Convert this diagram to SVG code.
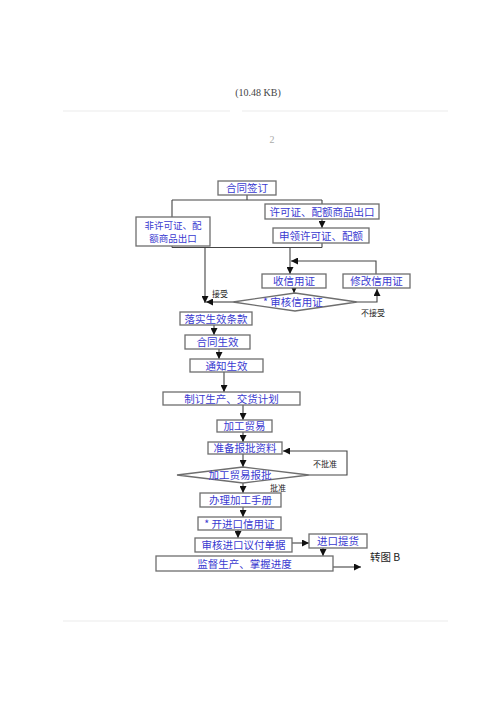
<svg xmlns="http://www.w3.org/2000/svg" width="500" height="707" viewBox="0 0 500 707">
<defs>
<marker id="ah" markerWidth="7" markerHeight="7" refX="7" refY="3.5" orient="auto" markerUnits="userSpaceOnUse">
<path d="M0,0 L7,3.5 L0,7 Z" fill="#111"/>
</marker>
<style>
.box{fill:#fff;stroke:#6e6e6e;stroke-width:1.3}
.t{font-family:"Noto Sans CJK SC","Noto Sans",sans-serif;font-size:10.5px;fill:#3a3ad0;text-anchor:middle}
.t2{font-size:9.5px}
.c{fill:none;stroke:#444;stroke-width:1.1}
.a{marker-end:url(#ah)}
.lb{font-family:"Noto Sans CJK SC",sans-serif;font-size:8px;fill:#222}
.faint{stroke:#f2f2f2;stroke-width:1.5}
</style>
</defs>
<rect width="500" height="707" fill="#fff"/>
<text x="258" y="96" font-family="'Liberation Serif',serif" font-size="10" fill="#444" text-anchor="middle">(10.48 KB)</text>
<line class="faint" x1="63" y1="111" x2="230" y2="111"/>
<line class="faint" x1="242" y1="111" x2="448" y2="111"/>
<text x="272" y="143" font-family="'Liberation Serif',serif" font-size="10" fill="#aaa" text-anchor="middle">2</text>
<line class="faint" x1="63" y1="621" x2="448" y2="621"/>

<g id="connectors">
<path class="c" d="M247,195 V200 M172,200 H322 M172,200 V217 M322,200 V204"/>
<path class="c a" d="M322,219 V228"/>
<path class="c" d="M172,246 V247.5 M322,243 V247.5 M172,247.5 H322"/>
<path class="c a" d="M205,247 V303"/>
<path class="c a" d="M290,247 V274"/>
<path class="c a" d="M376,274 V261 H291"/>
<path class="c a" d="M294,288 V293"/>
<path class="c a" d="M233,302 H206"/>
<path class="c a" d="M357,302 H377 V289"/>
<path class="c a" d="M214,325 V335"/>
<path class="c a" d="M219,349 V359"/>
<path class="c a" d="M224,372 V392"/>
<path class="c a" d="M243,405 V420"/>
<path class="c a" d="M243,432 V442"/>
<path class="c a" d="M243,454 V467"/>
<path class="c a" d="M309,475 H347 V451 H283"/>
<path class="c a" d="M243,483 V493"/>
<path class="c a" d="M243,507 V517"/>
<path class="c a" d="M238,530 V538"/>
<path class="c a" d="M292,543 H309"/>
<path class="c a" d="M323,548 V556"/>
<path class="c a" d="M333,567 H361"/>
</g>

<g id="n1"><rect class="box" x="218" y="181" width="58" height="14"/><text class="t" x="247" y="192">合同签订</text></g>
<g id="n2"><rect class="box" x="265" y="204" width="114" height="15"/><text class="t" x="322" y="215.5">许可证、配额商品出口</text></g>
<g id="n3"><rect class="box" x="273" y="228" width="96" height="15"/><text class="t" x="321" y="239.5">申领许可证、配额</text></g>
<g id="n4"><rect class="box" x="136" y="217" width="74" height="29"/><text class="t t2" x="173" y="228.5">非许可证、配</text><text class="t t2" x="173" y="242.3">额商品出口</text></g>
<g id="n5"><rect class="box" x="262" y="274" width="64" height="14"/><text class="t" x="294" y="285">收信用证</text></g>
<g id="n6"><rect class="box" x="343" y="274" width="67" height="14"/><text class="t" x="376.5" y="285">修改信用证</text></g>
<g id="d1"><polygon class="box" points="233,302 295,293 357,302 295,311"/><text class="t" x="293" y="306">* 审核信用证</text></g>
<g id="n7"><rect class="box" x="180" y="312" width="72" height="13"/><text class="t" x="216" y="322.5">落实生效条款</text></g>
<g id="n8"><rect class="box" x="185" y="335" width="65" height="14"/><text class="t" x="217.5" y="346">合同生效</text></g>
<g id="n9"><rect class="box" x="190" y="359" width="73" height="13"/><text class="t" x="226.5" y="369.5">通知生效</text></g>
<g id="n10"><rect class="box" x="163" y="392" width="137" height="13"/><text class="t" x="231.5" y="402.5">制订生产、交货计划</text></g>
<g id="n11"><rect class="box" x="217" y="420" width="55" height="12"/><text class="t" x="244.5" y="430">加工贸易</text></g>
<g id="n12"><rect class="box" x="208" y="442" width="74" height="12"/><text class="t" x="245" y="452">准备报批资料</text></g>
<g id="d2"><polygon class="box" points="177,475 243,467 309,475 243,483"/><text class="t" x="240" y="479">加工贸易报批</text></g>
<g id="n13"><rect class="box" x="200" y="493" width="81" height="14"/><text class="t" x="240.5" y="504">办理加工手册</text></g>
<g id="n14"><rect class="box" x="198" y="517" width="83" height="13"/><text class="t" x="239.5" y="527.5">* 开进口信用证</text></g>
<g id="n15"><rect class="box" x="195" y="538" width="97" height="14"/><text class="t" x="243.5" y="549">审核进口议付单据</text></g>
<g id="n16"><rect class="box" x="309" y="534" width="58" height="14"/><text class="t" x="338" y="545">进口提货</text></g>
<g id="n17"><rect class="box" x="156" y="556" width="177" height="15"/><text class="t" x="244.5" y="567.5">监督生产、掌握进度</text></g>

<g id="labels">
<text class="lb" x="212" y="297">接受</text>
<text class="lb" x="361" y="316">不接受</text>
<text class="lb" x="313" y="467">不批准</text>
<text class="lb" x="270" y="491">批准</text>
<text x="370" y="561" font-family="'Noto Sans CJK SC',sans-serif" font-size="10.5" fill="#222">转图 B</text>
</g>
</svg>
